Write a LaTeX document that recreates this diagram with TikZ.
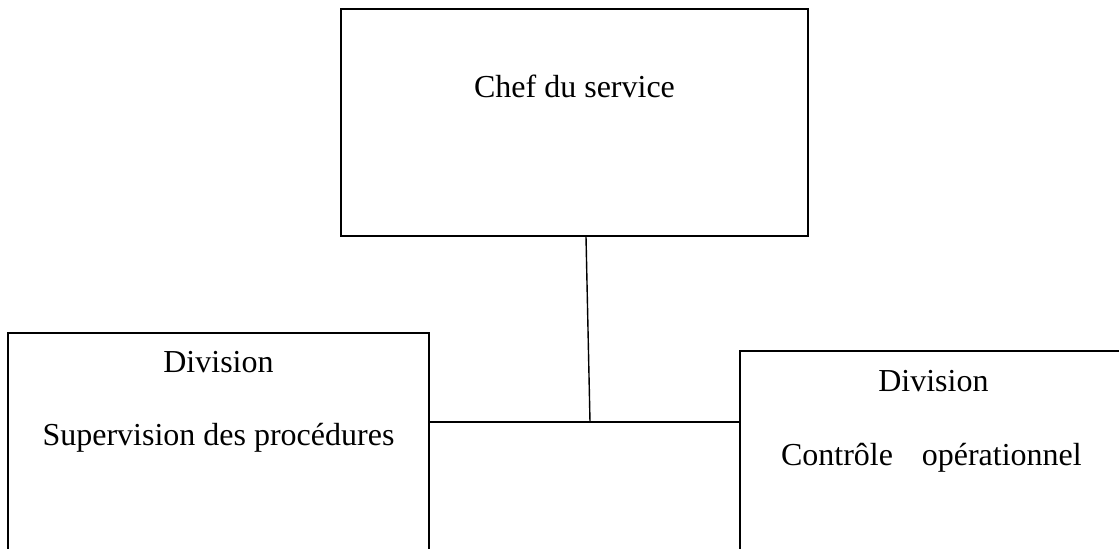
\documentclass[tikz,border=0pt]{standalone}
\usepackage{fontspec}
\setmainfont{Liberation Serif}
\usetikzlibrary{positioning}
\tikzset{
  unite/.style={draw, line width=0.6pt, inner sep=0pt},
  libelle/.style={font=\fontsize{16}{19}\selectfont, inner sep=0pt},
  lien/.style={line width=0.7pt},
}
\begin{document}
\begin{tikzpicture}[x=0.5pt,y=-0.5pt]
	\useasboundingbox (0,0) rectangle (1119,549);
	\clip (0,0) rectangle (1119,549);
	% boites
	\node[unite, minimum width=233.5pt, minimum height=113.5pt] (chef) at (574.5,122.5) {};
	\node[unite, minimum width=210.5pt, minimum height=158pt] (supervision) at (218.5,491) {};
	\node[unite, minimum width=239.5pt, minimum height=150pt] (controle) at (979.5,501) {};
	
	% textes
	\node[libelle] (chef-txt) at ([yshift=-39pt]chef.north) {Chef du service};
	\node[libelle] (supervision-div) at ([yshift=-15pt]supervision.north) {Division};
	\node[libelle] (supervision-txt) at ([yshift=-52.5pt]supervision.north) {Supervision des procédures};
	\node[libelle] (controle-div) at ([xshift=97pt,yshift=-15.5pt]controle.north west) {Division};
	\node[libelle] (controle-txt) at ([xshift=96pt,yshift=-53.5pt]controle.north west) {Contrôle\hspace{0.9em}opérationnel};
	
	% liaisons
	\coordinate (jonction) at (590,422);
	\draw[lien] ([xshift=5.75pt]chef.south) -- (jonction);
	\draw[lien] (supervision.east |- jonction) -- (controle.west |- jonction);
\end{tikzpicture}
\end{document}
